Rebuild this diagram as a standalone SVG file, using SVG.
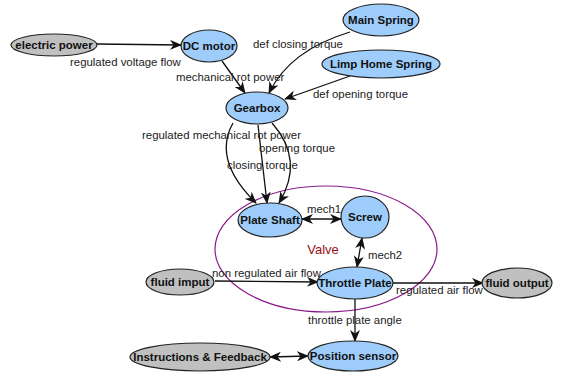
<svg xmlns="http://www.w3.org/2000/svg" width="564" height="377" viewBox="0 0 564 377">
<style>
.n ellipse{stroke:#222;stroke-width:1.2}
.b{fill:#9fcdfb}
.g{fill:#c0c0c0}
.t{font-family:"Liberation Sans",Arial,sans-serif;font-size:11.5px;font-weight:bold;fill:#111;text-anchor:middle}
.l{font-family:"Liberation Sans",Arial,sans-serif;font-size:11.4px;fill:#222}
.e path{fill:none;stroke:#111;stroke-width:1.3;marker-end:url(#a)}
.e path.d{marker-start:url(#a)}
</style>
<defs>
<marker id="a" viewBox="0 0 12 10" refX="11" refY="5" markerWidth="12" markerHeight="10" markerUnits="userSpaceOnUse" orient="auto-start-reverse">
<path d="M0,0 L12,5 L0,10 L3.5,5 z" fill="#111"/>
</marker>
</defs>
<rect width="564" height="377" fill="#fff"/>
<ellipse id="valve" cx="326" cy="249" rx="111" ry="63" fill="none" stroke="#8a1a8a" stroke-width="1.2"/>
<text x="323" y="254" font-family="Liberation Sans,Arial,sans-serif" font-size="13" fill="#9a1010" text-anchor="middle">Valve</text>
<g class="e">
<path d="M97,44 L181,45"/>
<path d="M222,61 L245,93"/>
<path d="M350,32 Q290,50 269,93"/>
<path d="M350,76 L285,99"/>
<path d="M233,123 Q212,160 256,203"/>
<path d="M258,125 L267,203"/>
<path d="M272,123 Q305,160 279,203"/>
<path class="d" d="M302,219 L341,219"/>
<path class="d" d="M362,238 L357,267"/>
<path d="M215,281 L318,282"/>
<path d="M393,283 L483,283"/>
<path d="M355,299 L355,341"/>
<path class="d" d="M270,357 L308,356"/>
</g>
<g class="n">
<g id="electric-power"><ellipse class="g" cx="54" cy="45" rx="43" ry="11"/><text class="t" x="54" y="49">electric power</text></g>
<g id="dc-motor"><ellipse class="b" cx="209" cy="46" rx="28" ry="16"/><text class="t" x="209" y="50">DC motor</text></g>
<g id="main-spring"><ellipse class="b" cx="381" cy="20" rx="38" ry="16"/><text class="t" x="381" y="24">Main Spring</text></g>
<g id="limp-home-spring"><ellipse class="b" cx="381" cy="64" rx="59" ry="14"/><text class="t" x="381" y="68">Limp Home Spring</text></g>
<g id="gearbox"><ellipse class="b" cx="257" cy="108" rx="31" ry="16"/><text class="t" x="257" y="112">Gearbox</text></g>
<g id="plate-shaft"><ellipse class="b" cx="270" cy="220" rx="32" ry="17"/><text class="t" x="270" y="224">Plate Shaft</text></g>
<g id="screw"><ellipse class="b" cx="365" cy="217" rx="24" ry="21"/><text class="t" x="365" y="221">Screw</text></g>
<g id="throttle-plate"><ellipse class="b" cx="355" cy="283" rx="38" ry="16"/><text class="t" x="355" y="287">Throttle Plate</text></g>
<g id="fluid-imput"><ellipse class="g" cx="180" cy="282" rx="34" ry="13"/><text class="t" x="180" y="286">fluid imput</text></g>
<g id="fluid-output"><ellipse class="g" cx="517" cy="283" rx="35" ry="15"/><text class="t" x="517" y="287">fluid output</text></g>
<g id="position-sensor"><ellipse class="b" cx="353" cy="356" rx="45" ry="15"/><text class="t" x="353" y="360">Position sensor</text></g>
<g id="instructions-feedback"><ellipse class="g" cx="200" cy="357" rx="70" ry="14"/><text class="t" x="200" y="361">Instructions &amp; Feedback</text></g>
</g>
<g class="labels">
<text class="l" x="70" y="66">regulated voltage flow</text>
<text class="l" x="176" y="81">mechanical rot power</text>
<text class="l" x="253" y="48">def closing torque</text>
<text class="l" x="313" y="98">def opening torque</text>
<text class="l" x="142" y="139">regulated mechanical rot power</text>
<text class="l" x="259" y="152">opening torque</text>
<text class="l" x="227" y="169">closing torque</text>
<text class="l" x="307" y="213">mech1</text>
<text class="l" x="368" y="259">mech2</text>
<text class="l" x="212" y="277">non regulated air flow</text>
<text class="l" x="396" y="294">regulated air flow</text>
<text class="l" x="308" y="324">throttle plate angle</text>
</g>
</svg>
